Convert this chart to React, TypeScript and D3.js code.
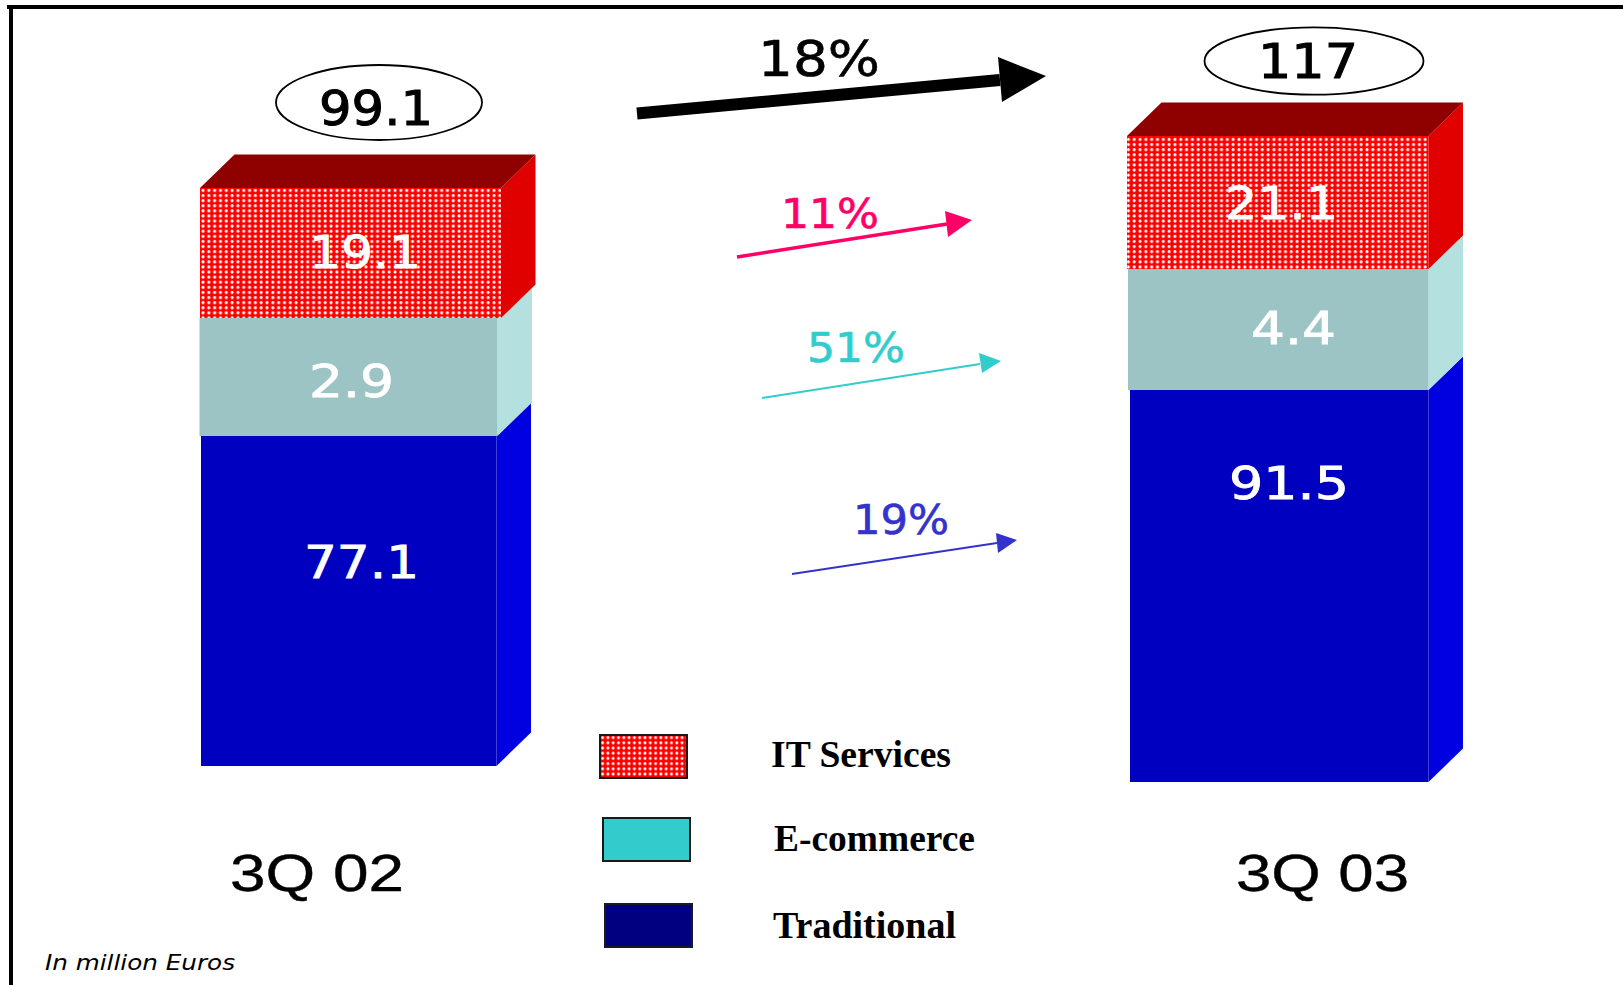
import React from "react";
import * as d3 from "d3";

// ---------- data ----------
const periods = ["3Q 02", "3Q 03"];
const seriesNames = ["Traditional", "E-commerce", "IT Services"];
const traditional = [77.1, 91.5];
const eCommerce = [2.9, 4.4];
const itServices = [19.1, 21.1];
const totals = ["99.1", "117"];
const growthLabels = ["18%", "11%", "51%", "19%"];
const unitNote = "In million Euros";

// ---------- layout ----------
const W = 1623, H = 985;
const FONT = "'DejaVu Sans', Verdana, sans-serif";
const DEPTH_X = 34.5;
const DEPTH_Y = 33.5;
const baselines = [766, 782];
// the picture's bars use a separate height scale for each segment kind
const heightScales = [
  d3.scaleLinear().domain([77.1, 91.5]).range([330, 392]),
  d3.scaleLinear().domain([2.9, 4.4]).range([118, 121]),
  d3.scaleLinear().domain([19.1, 21.1]).range([130, 133]),
];
const seriesValues = [traditional, eCommerce, itServices];
const xExtents = [
  [[201, 496.5], [199.5, 497.5], [200, 501]],
  [[1130, 1428.5], [1128, 1428.5], [1127, 1428.5]],
];
const frontFill = ["#0000c0", "#9cc4c4", "url(#dots)"];
const sideFill = ["#0000e0", "#b4e0e0", "#e00000"];
const labelPos = [
  [[307, 416, 578], [312, 391, 397], [312, 418, 268]],
  [[1232, 1346, 499], [1254, 1333, 344], [1228, 1335, 219]],
];
const ovals = [
  { cx: 379, cy: 102.5, rx: 103, ry: 37.5, t: [322, 430, 125] },
  { cx: 1314, cy: 61, rx: 109.5, ry: 33.7, t: [1261, 1355, 78] },
];
const periodPos = [[232, 402, 891], [1238, 1407, 891]];
const arrowStyles = [
  { color: "#000000", w: 12, start: [637, 113.5], neck: [1000, 80], tip: [1046, 76], a: [998, 57], b: [1002, 102], t: [760, 878, 76], fs: 50 },
  { color: "#ff0066", w: 3.5, start: [737, 257], neck: [947, 224], tip: [972, 220], a: [945, 211], b: [948, 237], t: [783, 877, 228], fs: 40 },
  { color: "#33cccc", w: 2, start: [762, 398], neck: [980, 364], tip: [1001, 361], a: [979, 353], b: [982, 373], t: [809, 903, 362], fs: 40 },
  { color: "#3333cc", w: 2, start: [792, 574], neck: [997, 543], tip: [1017, 540], a: [996, 533], b: [998, 553], t: [855, 947, 534], fs: 40 },
];
const legendBoxes = [
  { x: 600, y: 735, fill: "url(#dotsLegend)", name: "IT Services", t: [771, 951, 767] },
  { x: 603, y: 818, fill: "#33cccc", name: "E-commerce", t: [774, 975, 851] },
  { x: 605, y: 904, fill: "#000080", name: "Traditional", t: [773, 956, 938] },
];

const poly = (pts: number[][]) => pts.map((p) => p.join(",")).join(" ");

function FitText({ t, fs, fill, family = FONT, weight, italic, pad = 0, bold = 0 }: any) {
  return (
    <text
      x={t[0] - pad}
      y={t[2]}
      fontFamily={family}
      fontSize={fs}
      fontWeight={weight}
      fontStyle={italic ? "italic" : undefined}
      fill={fill}
      stroke={bold ? fill : undefined}
      strokeWidth={bold || undefined}
      textLength={t[1] - t[0] + 2 * pad}
      lengthAdjust="spacingAndGlyphs"
    >
      {t[3]}
    </text>
  );
}

export default function App() {
  const bars = periods.map((_, b) => {
    let y = baselines[b];
    return seriesValues.map((vals, s) => {
      const h = heightScales[s](vals[b]);
      const seg = { s, x0: xExtents[b][s][0], x1: xExtents[b][s][1], y0: y - h, y1: y, v: vals[b] };
      y -= h;
      return seg;
    });
  });

  return (
    <svg width={W} height={H} viewBox={`0 0 ${W} ${H}`} style={{ position: "absolute", left: 0, top: 0, display: "block", background: "#fff" }}>
      <defs>
        <pattern id="dots" x={200} y={188} width={5.82} height={5.1} patternUnits="userSpaceOnUse">
          <rect width={5.82} height={5.1} fill="#ff0000" />
          <circle cx={3} cy={2.5} r={1.55} fill="#ffffff" />
        </pattern>
        <pattern id="dotsLegend" x={600} y={735} width={5.3} height={5.2} patternUnits="userSpaceOnUse">
          <rect width={5.3} height={5.2} fill="#ff0000" />
          <circle cx={2.6} cy={2.6} r={1.45} fill="#ffffff" />
        </pattern>
      </defs>

      <line x1={7} y1={7} x2={W} y2={7} stroke="#000" strokeWidth={4} />
      <line x1={11} y1={5} x2={11} y2={H} stroke="#000" strokeWidth={4} />

      {bars.map((segs, b) => (
        <g key={periods[b]}>
          {segs.map((d) => (
            <polygon
              key={"side" + d.s}
              points={poly([
                [d.x1, d.y0],
                [d.x1 + DEPTH_X, d.y0 - DEPTH_Y],
                [d.x1 + DEPTH_X, d.y1 - DEPTH_Y],
                [d.x1, d.y1],
              ])}
              fill={sideFill[d.s]}
            />
          ))}
          <polygon
            points={poly([
              [segs[2].x0, segs[2].y0],
              [segs[2].x0 + DEPTH_X, segs[2].y0 - DEPTH_Y],
              [segs[2].x1 + DEPTH_X, segs[2].y0 - DEPTH_Y],
              [segs[2].x1, segs[2].y0],
            ])}
            fill="#8f0000"
          />
          {segs.map((d) => (
            <rect key={"front" + d.s} x={d.x0} y={d.y0} width={d.x1 - d.x0} height={d.y1 - d.y0} fill={frontFill[d.s]} />
          ))}
          {segs.map((d) => (
            <FitText key={"label" + d.s} t={[...labelPos[b][d.s], d.v.toFixed(1)]} fs={44} fill="#ffffff" pad={3} bold={0.8} />
          ))}
          <ellipse cx={ovals[b].cx} cy={ovals[b].cy} rx={ovals[b].rx} ry={ovals[b].ry} fill="#fff" stroke="#000" strokeWidth={1.8} />
          <FitText t={[...ovals[b].t, totals[b]]} fs={48} fill="#000" pad={3} bold={1} />
          <FitText t={[...periodPos[b], periods[b]]} fs={52} fill="#000" family="'Liberation Sans', Arial, sans-serif" pad={2} bold={0.4} />
        </g>
      ))}

      {arrowStyles.map((a, i) => (
        <g key={growthLabels[i]}>
          <line x1={a.start[0]} y1={a.start[1]} x2={a.neck[0]} y2={a.neck[1]} stroke={a.color} strokeWidth={a.w} />
          <polygon points={poly([a.tip, a.a, a.b])} fill={a.color} />
          <FitText t={[...a.t, growthLabels[i]]} fs={a.fs} fill={a.color} pad={2} bold={0.6} />
        </g>
      ))}

      {legendBoxes.map((l) => (
        <g key={l.name}>
          <rect x={l.x} y={l.y} width={87} height={43} fill={l.fill} stroke="#1a1a1a" strokeWidth={2} />
          <FitText t={[...l.t, l.name]} fs={37} fill="#000" family="'Liberation Serif', 'Times New Roman', serif" weight="bold" />
        </g>
      ))}

      <FitText t={[45, 235, 970, unitNote]} fs={22} fill="#000" italic />
    </svg>
  );
}
